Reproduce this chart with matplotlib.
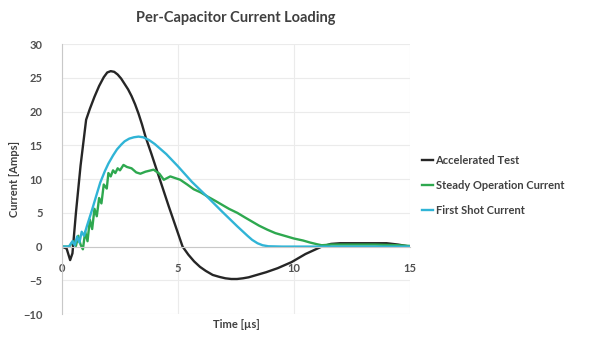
import matplotlib
matplotlib.use("Agg")
import matplotlib.pyplot as plt

plt.rcParams["font.family"] = ["Lato", "DejaVu Sans"]
plt.rcParams["font.weight"] = "bold"

# Accelerated test waveform (time in us, current in A)
accel_t = [0, 0.2, 0.35, 0.45, 0.6, 0.8, 1.04, 1.2, 1.4, 1.6, 1.8, 1.95, 2.1,
           2.25, 2.4, 2.55, 2.7, 2.85, 3.0, 3.15, 3.3, 3.45, 3.6, 3.85, 4.1,
           4.35, 4.6, 4.9, 5.2, 5.45, 5.7, 5.95, 6.2, 6.5, 6.8, 7.05, 7.3,
           7.55, 7.8, 8.05, 8.3, 8.8, 9.3, 9.9, 10.5, 11.2, 11.6, 12.0, 13.0,
           14.0, 14.5, 15.0]
accel_i = [0, -0.3, -2.0, -1.0, 5.0, 12.0, 18.8, 20.4, 22.2, 23.8, 25.1, 25.8,
           26.0, 25.9, 25.5, 24.9, 24.1, 23.3, 22.3, 21.1, 19.7, 18.1, 16.3,
           13.8, 11.2, 8.6, 6.0, 3.0, 0.0, -1.2, -2.2, -3.0, -3.6, -4.2, -4.5,
           -4.7, -4.8, -4.8, -4.7, -4.55, -4.3, -3.8, -3.2, -2.3, -1.1, 0.0,
           0.4, 0.5, 0.5, 0.5, 0.3, 0.0]

# Steady operation current
steady_t = [0, 0.3, 0.5, 0.6, 0.7, 0.8, 0.9, 1.0, 1.1, 1.2, 1.3, 1.4, 1.5,
            1.6, 1.7, 1.8, 1.93, 2.0, 2.1, 2.2, 2.3, 2.4, 2.5, 2.65, 2.8,
            3.0, 3.2, 3.38, 3.6, 3.95, 4.2, 4.39, 4.67, 5.1, 5.4, 5.68, 6.0,
            6.26, 6.6, 6.9, 7.2, 7.56, 7.9, 8.2, 8.5, 8.86, 9.2, 9.5, 10.0,
            10.4, 10.7, 11.0, 11.2, 11.6, 12.5, 13.5, 14.5, 15.0]
steady_i = [0, 0, 0.8, 0.1, 1.6, 0.3, -0.4, 2.2, 0.8, 4.0, 2.6, 5.6, 4.5,
            7.2, 6.4, 9.2, 8.6, 10.9, 10.4, 11.3, 10.9, 11.6, 11.3, 12.1,
            11.8, 11.6, 11.0, 10.8, 11.1, 11.4, 10.8, 9.9, 10.4, 9.9, 9.2,
            8.5, 8.0, 7.45, 6.8, 6.2, 5.6, 5.0, 4.3, 3.7, 3.1, 2.5, 2.0, 1.7,
            1.2, 0.9, 0.6, 0.35, 0.2, 0.3, 0.3, 0.3, 0.2, 0.1]

# First shot current
first_t = [0, 0.3, 0.45, 0.55, 0.65, 0.75, 0.85, 0.95, 1.07, 1.3, 1.5, 1.65,
           1.85, 2.0, 2.2, 2.37, 2.55, 2.7, 2.9, 3.1, 3.3, 3.5, 3.75, 4.0,
           4.5, 5.0, 5.6, 6.26, 6.9, 7.56, 8.0, 8.2, 8.43, 8.65, 8.9, 9.5,
           11.0, 13.0, 15.0]
first_i = [0, 0, 0.8, 0.2, 1.5, 0.6, 2.2, 1.6, 3.0, 5.5, 7.8, 9.5, 11.2,
           12.3, 13.5, 14.4, 15.1, 15.6, 16.0, 16.2, 16.3, 16.2, 15.8, 15.2,
           13.7, 11.9, 9.6, 7.4, 5.2, 3.0, 1.6, 1.0, 0.5, 0.2, 0.05, 0, 0,
           0, 0]

labels = ["Accelerated Test", "Steady Operation Current", "First Shot Current"]
colors = ["#262626", "#2ea84f", "#30b4d6"]
text_color = "#404040"

fig = plt.figure(figsize=(6.08, 3.37), dpi=100)
ax = fig.add_axes([0.102, 0.068, 0.572, 0.801])

ax.plot(accel_t, accel_i, color=colors[0], lw=1.7, label=labels[0])
ax.plot(steady_t, steady_i, color=colors[1], lw=1.7, label=labels[1])
ax.plot(first_t, first_i, color=colors[2], lw=1.7, label=labels[2])

ax.set_xlim(0, 15)
ax.set_ylim(-10, 30)
ax.set_xticks([0, 5, 10, 15])
ax.set_yticks(range(-10, 31, 5))
ax.grid(True, color="#ebebeb", lw=0.8)
ax.set_axisbelow(True)

for side in ["top", "right"]:
    ax.spines[side].set_visible(False)
ax.spines["bottom"].set_position(("data", 0))
ax.spines["bottom"].set_color("#c8c8c8")
ax.spines["left"].set_color("#c8c8c8")
ax.tick_params(length=0, labelsize=8, colors="#505050")
ax.tick_params(axis="x", pad=12)
ax.tick_params(axis="y", pad=14)

ax.set_title("Per-Capacitor Current Loading", fontsize=10.5, fontweight="bold",
             color=text_color, pad=16)
ax.set_xlabel("Time [\u00b5s]", fontsize=8, fontweight="bold", color=text_color)
ax.xaxis.set_label_coords(0.5, -0.02)
ax.set_ylabel("Current [Amps]", fontsize=8, fontweight="bold", color=text_color)
ax.yaxis.set_label_coords(-0.12, 0.5)

leg = fig.legend(loc="center left", bbox_to_anchor=(0.678, 0.45), frameon=False,
                 fontsize=8, handlelength=1.0, handletextpad=0.2,
                 labelspacing=1.25)
for t in leg.get_texts():
    t.set_color(text_color)

fig.savefig("out.png", dpi=100)
